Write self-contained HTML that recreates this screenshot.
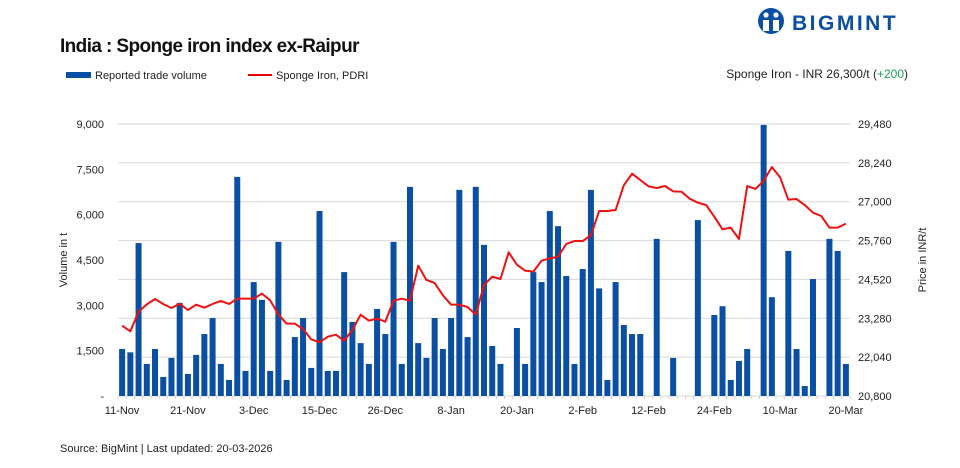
<!DOCTYPE html>
<html><head><meta charset="utf-8"><style>
body{margin:0;width:960px;height:468px;background:#fff;overflow:hidden;font-family:"Liberation Sans",sans-serif;}
svg{position:absolute;left:0;top:0}
</style></head><body>
<svg id="chart" width="960" height="468">
<text x="60" y="52" font-size="19" font-weight="bold" fill="#111" letter-spacing="-0.6">India : Sponge iron index ex-Raipur</text>
<g>
<circle cx="771" cy="21" r="13" fill="#0a4fa3"/>
<circle cx="766" cy="15" r="2.6" fill="#fff"/><circle cx="776" cy="15" r="2.6" fill="#fff"/>
<path d="M763 20 h6 v11 h-6z M773 20 h6 v11 h-6z" fill="#fff"/>
<text x="792" y="30" font-size="21" font-weight="bold" fill="#0a4fa3" letter-spacing="2.5">BIGMINT</text>
</g>
<g>
<rect x="66" y="72" width="25" height="6" fill="#0a4fa3"/>
<text x="95" y="79" font-size="11" fill="#222">Reported trade volume</text>
<line x1="248" y1="75" x2="272" y2="75" stroke="#e00" stroke-width="2"/>
<text x="276" y="79" font-size="11" fill="#222">Sponge Iron, PDRI</text>
</g>
<text x="908" y="78" font-size="12" fill="#222" text-anchor="end">Sponge Iron - INR 26,300/t (<tspan fill="#1a9e5a">+200</tspan>)</text>
<text transform="translate(67,260) rotate(-90)" font-size="11" fill="#222" text-anchor="middle">Volume in t</text>
<text transform="translate(926,260) rotate(-90)" font-size="11" fill="#222" text-anchor="middle">Price in INR/t</text>
<text x="60" y="452" font-size="11" fill="#222">Source: BigMint | Last updated: 20-03-2026</text>
<g id="plot"></g>
</svg>
<script>
const volumes=[1555,1445,5060,1060,1555,630,1260,3080,730,1360,2050,2580,1060,530,7250,830,3770,3180,830,5100,530,1950,2580,930,6120,830,830,4100,2450,1750,1060,2880,2050,5100,1060,6920,1750,1260,2580,1555,2580,6820,1950,6920,5000,1655,1060,0,2250,1060,4100,3770,6120,5620,3970,1060,4200,6820,3560,530,3770,2350,2050,2050,0,5200,0,1260,0,0,5820,0,2680,2970,530,1160,1555,0,8970,3270,0,4800,1555,330,3870,0,5200,4800,1060];
const prices=[23044,22864,23491,23725,23895,23736,23608,23746,23544,23715,23619,23736,23832,23736,23906,23906,23906,24066,23853,23406,23108,23108,22938,22608,22513,22693,22757,22566,22906,23395,23204,23268,23172,23842,23906,23842,24959,24502,24406,24012,23715,23715,23640,23395,24342,24608,24534,25385,24991,24800,24768,25119,25193,25246,25651,25746,25746,25927,26704,26704,26735,27523,27895,27693,27491,27438,27501,27331,27320,27097,26969,26895,26523,26119,26172,25810,27501,27406,27661,28108,27778,27065,27086,26895,26650,26544,26172,26172,26300];
const xLabels=["11-Nov","21-Nov","3-Dec","15-Dec","26-Dec","8-Jan","20-Jan","2-Feb","12-Feb","24-Feb","10-Mar","20-Mar"];
const leftTicks=[0,1500,3000,4500,6000,7500,9000];
const rightTicks=[20800,22040,23280,24520,25760,27000,28240,29480];
const NS="http://www.w3.org/2000/svg";
const X0=118,X1=850,Y0=396,Y1=124;
const n=volumes.length,slot=(X1-X0)/n;
const xc=i=>X0+(i+0.5)*slot;
const yL=v=>Y0-(v-0)/(9000-0)*(Y0-Y1);
const yR=v=>Y0-(v-20800)/(29480-20800)*(Y0-Y1);
const g=document.getElementById('plot');
function mk(t,a){const e=document.createElementNS(NS,t);for(const k in a)e.setAttribute(k,a[k]);g.appendChild(e);return e;}
rightTicks.forEach((v,i)=>{const l=mk('line',{x1:X0,x2:X1,y1:yR(v),y2:yR(v),stroke:'#d9d9d9','stroke-width':1});


const t=mk('text',{x:858,y:yR(v)+4,'font-size':11,fill:'#222'});t.textContent=v.toLocaleString('en-US');

});
leftTicks.forEach(v=>{const t=mk('text',{x:104,y:yL(v)+4,'font-size':11,fill:'#222','text-anchor':'end'});t.textContent=v===0?'-':v.toLocaleString('en-US');

});
for(let i=0;i<=n;i++){const x=X0+i*slot;const l=mk('line',{x1:x,x2:x,y1:Y0,y2:Y0+3,stroke:'#ccc'});

}
volumes.forEach((v,i)=>{if(v<=0)return;const r=mk('rect',{x:xc(i)-3,y:yL(v),width:6,height:Y0-yL(v),fill:'#0a4fa3'});

});
const p=mk('polyline',{points:prices.map((v,i)=>xc(i)+','+yR(v)).join(' '),fill:'none',stroke:'#ee1111','stroke-width':2,'stroke-linejoin':'round'});


xLabels.forEach((s,k)=>{const t=mk('text',{x:xc(k*8),y:414,'font-size':11,fill:'#222','text-anchor':'middle'});t.textContent=s;

});
</script>
</body></html>
